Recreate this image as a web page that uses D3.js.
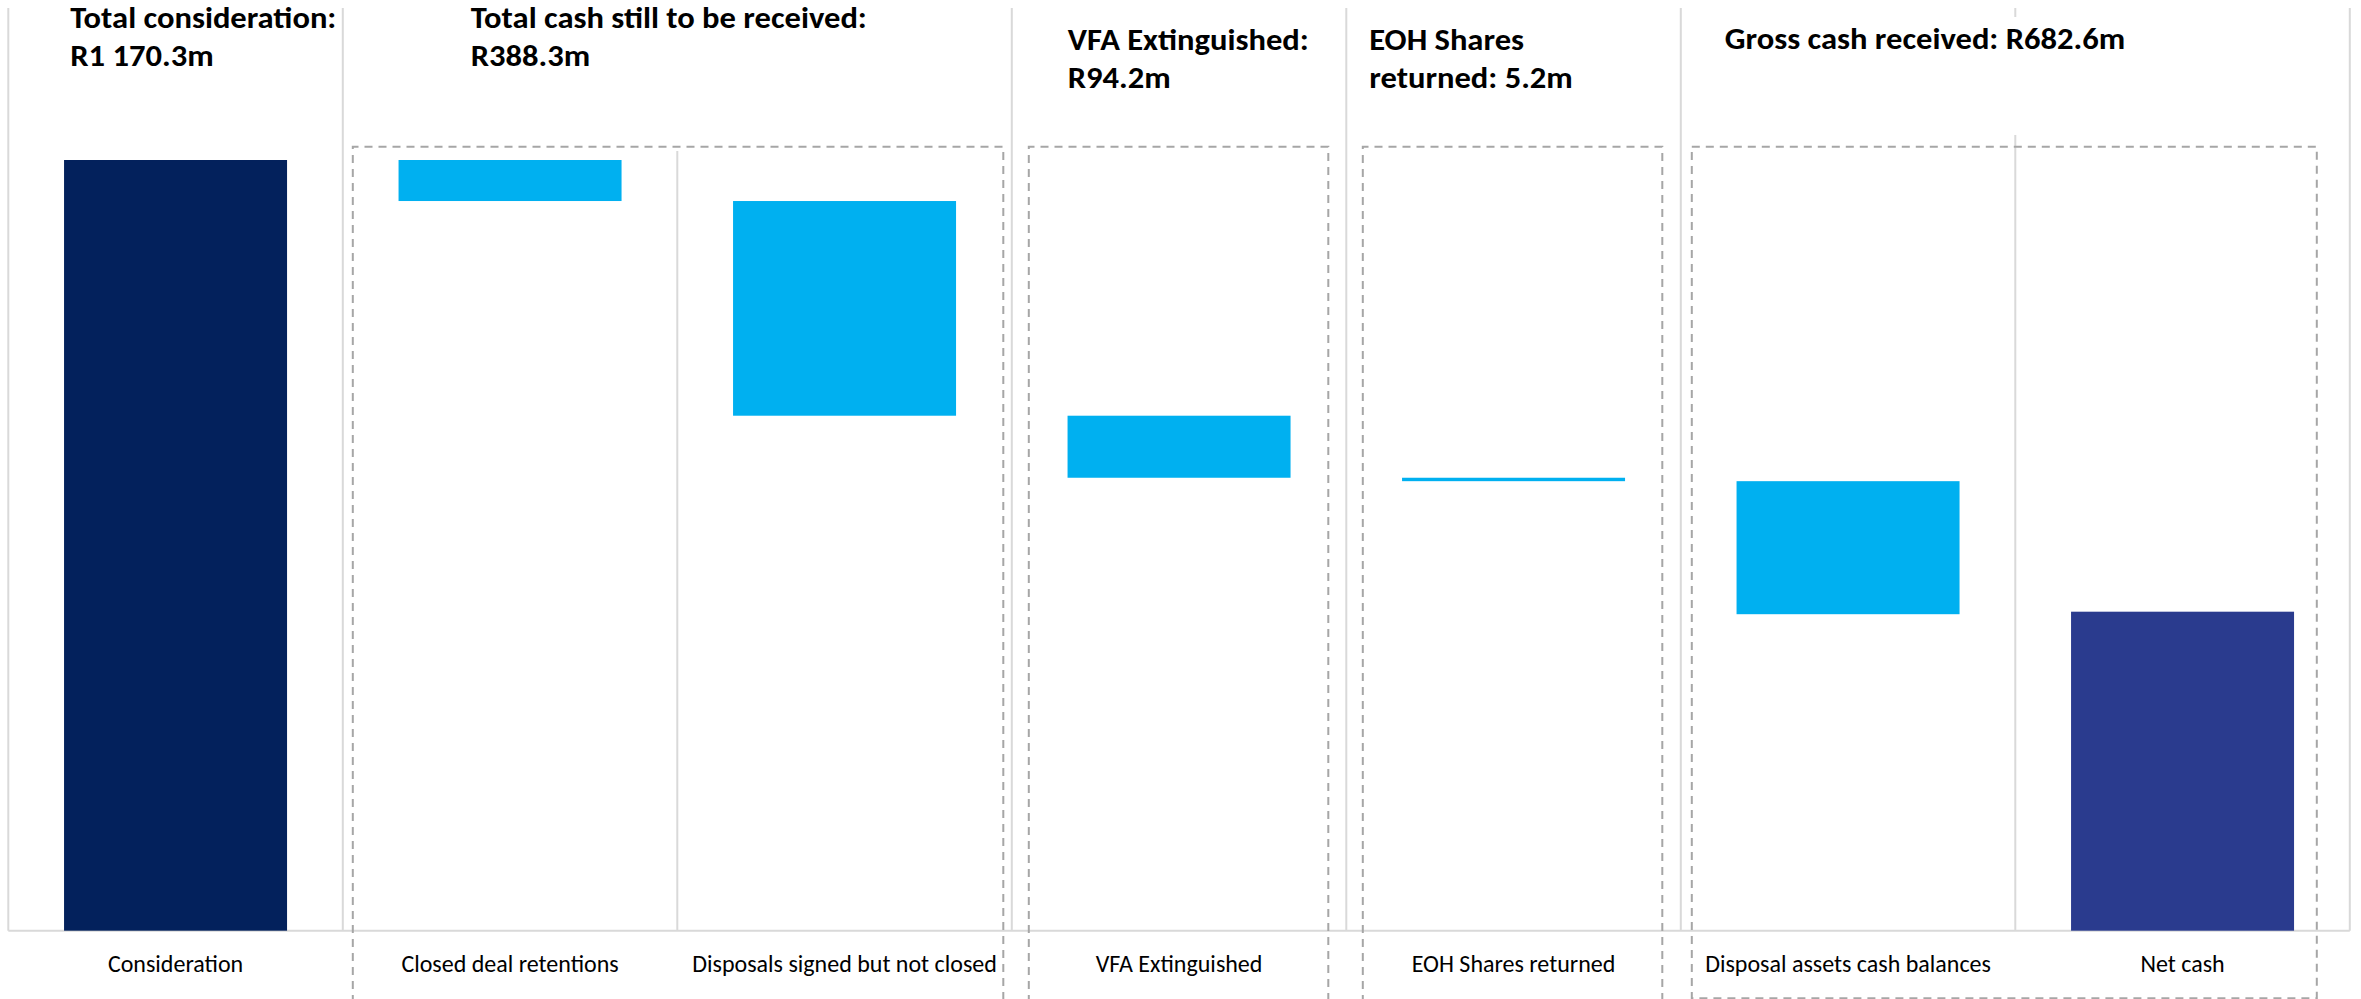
<!DOCTYPE html>
<html>
<head>
<meta charset="utf-8">
<script src="https://cdn.jsdelivr.net/npm/d3@7"></script>
<style>
  html, body { margin: 0; padding: 0; background: #ffffff; }
  svg { display: block; }
</style>
</head>
<body>
<svg id="chart" width="2361" height="999"></svg>
<script>
// ---- data (R millions) ----
const categories = [
  "Consideration",
  "Closed deal retentions",
  "Disposals signed but not closed",
  "VFA Extinguished",
  "EOH Shares returned",
  "Disposal assets cash balances",
  "Net cash"
];
// "total" bars stand on the axis, "step" bars hang down from the running total
const barKinds  = ["total", "step", "step", "step", "step", "step", "total"];
const barValues = [1170.3, 62.3, 326.0, 94.2, 5.2, 202.0, 484.4];
const barColors = ["#03215c", "#00b0f0", "#00b0f0", "#00b0f0", "#00b0f0", "#00b0f0", "#2a3b8e"];

// headline groups: which categories each dashed panel covers, and its caption
const groupCats = [[0], [1, 2], [3], [4], [5, 6]];
const groupText = [
  ["Total consideration:", "R{v}m"],
  ["Total cash still to be received:", "R{v}m"],
  ["VFA Extinguished:", "R{v}m"],
  ["EOH Shares", "returned: {v}m"],
  ["Gross cash received: R{v}m"]
];

// ---- layout ----
const W = 2361, H = 999;
const plot = { left: 8.3, right: 2349.8, top: 8, bottom: 930.7, barTop: 160 };
const headX    = [62, 128, 56, 23, 44];      // caption offset from the group's left edge
const headY    = [27.5, 27.5, 50, 50, 49];
const lineGap  = 38.3;
const headStretch = 1.085;                   // captions are set in a condensed face
const cover    = [null, [0, 151], null, null, [17, 135]]; // white backing behind some captions
const boxInset = [null, [10, 8.5, false], [17, 18, false], [16.5, 18.5, false], [11, 33, true]];
const boxTop = 146.7, boxBottom = 998.3;
const fontStack = "Carlito, Calibri, Lato, sans-serif";

const svg = d3.select("#chart");
const fmt = d3.formatLocale({ decimal: ".", thousands: " ", grouping: [3], currency: ["", ""] }).format(",.1f");

// running-total spans for each bar
let running = 0;
const bars = categories.map((c, i) => {
  let lo, hi;
  if (barKinds[i] === "total") { lo = 0; hi = barValues[i]; running = hi; }
  else { hi = running; lo = running - barValues[i]; running = lo; }
  return { cat: c, lo, hi, color: barColors[i], i };
});

const x = d3.scaleBand()
  .domain(categories)
  .range([plot.left, plot.right])
  .paddingInner(1 / 3)
  .paddingOuter(1 / 6);

const y = d3.scaleLinear()
  .domain([0, d3.max(bars, d => d.hi)])
  .range([plot.bottom, plot.barTop]);

const step = x.step();
const bandLeft  = c => x(c) - step * x.paddingInner() / 2;
const bandRight = c => bandLeft(c) + step;

// ---- category separators & frame ----
const edges = [plot.left].concat(categories.map(c => bandRight(c)));
svg.append("g").selectAll("line").data(edges).join("line")
  .attr("x1", d => d).attr("x2", d => d)
  .attr("y1", plot.top).attr("y2", plot.bottom)
  .attr("stroke", "#d9d9d9").attr("stroke-width", 2);

// category axis
const xAxis = svg.append("g")
  .attr("transform", `translate(0,${plot.bottom})`)
  .call(d3.axisBottom(x).tickSize(0).tickPadding(0));
xAxis.select(".domain")
  .attr("d", `M${plot.left},0H${plot.right}`)
  .attr("stroke", "#d9d9d9").attr("stroke-width", 2);
xAxis.selectAll(".tick text")
  .attr("y", 41)
  .attr("dy", null)
  .attr("fill", "#000")
  .style("font-family", fontStack)
  .style("font-size", "24px");

// ---- headline captions ----
const groupValue = g => {
  const cats = groupCats[g];
  if (g === groupCats.length - 1) return bars[cats[0]].hi;   // cash on hand before balances
  if (cats.length === 1 && barKinds[cats[0]] === "total") return bars[cats[0]].hi;
  return d3.sum(cats, k => barValues[k]);
};
const heads = svg.append("g");
groupCats.forEach((cats, g) => {
  const gl = bandLeft(categories[cats[0]]);
  if (cover[g]) {
    heads.append("rect")
      .attr("x", gl + headX[g] - 12).attr("y", cover[g][0])
      .attr("width", 450).attr("height", cover[g][1] - cover[g][0])
      .attr("fill", "#ffffff");
  }
  const v = fmt(groupValue(g));
  const t = heads.append("text")
    .attr("transform", `translate(${gl + headX[g]},0) scale(${headStretch},1)`)
    .attr("fill", "#000")
    .style("font-family", fontStack)
    .style("font-weight", "700")
    .style("font-size", "30px");
  groupText[g].forEach((ln, k) => {
    t.append("tspan").attr("x", 0).attr("y", headY[g] + k * lineGap)
      .text(ln.replace("{v}", v));
  });
});

// ---- bars ----
svg.append("g").selectAll("rect").data(bars).join("rect")
  .attr("x", d => x(d.cat))
  .attr("width", x.bandwidth())
  .attr("y", d => y(d.hi))
  .attr("height", d => Math.max(2.5, y(d.lo) - y(d.hi)))
  .attr("fill", d => d.color);

// ---- dashed panels ----
const boxes = svg.append("g")
  .attr("fill", "none").attr("stroke", "#a6a6a6")
  .attr("stroke-width", 2).attr("stroke-dasharray", "8,6");
groupCats.forEach((cats, g) => {
  if (!boxInset[g]) return;
  const [il, ir, closed] = boxInset[g];
  const l = bandLeft(categories[cats[0]]) + il;
  const r = bandRight(categories[cats[cats.length - 1]]) - ir;
  const p = d3.path();
  if (closed) {
    p.rect(l, boxTop, r - l, boxBottom - boxTop);
  } else {
    p.moveTo(l, H + 4); p.lineTo(l, boxTop); p.lineTo(r, boxTop); p.lineTo(r, H + 4);
  }
  boxes.append("path").attr("d", p.toString());
});
</script>
</body>
</html>
